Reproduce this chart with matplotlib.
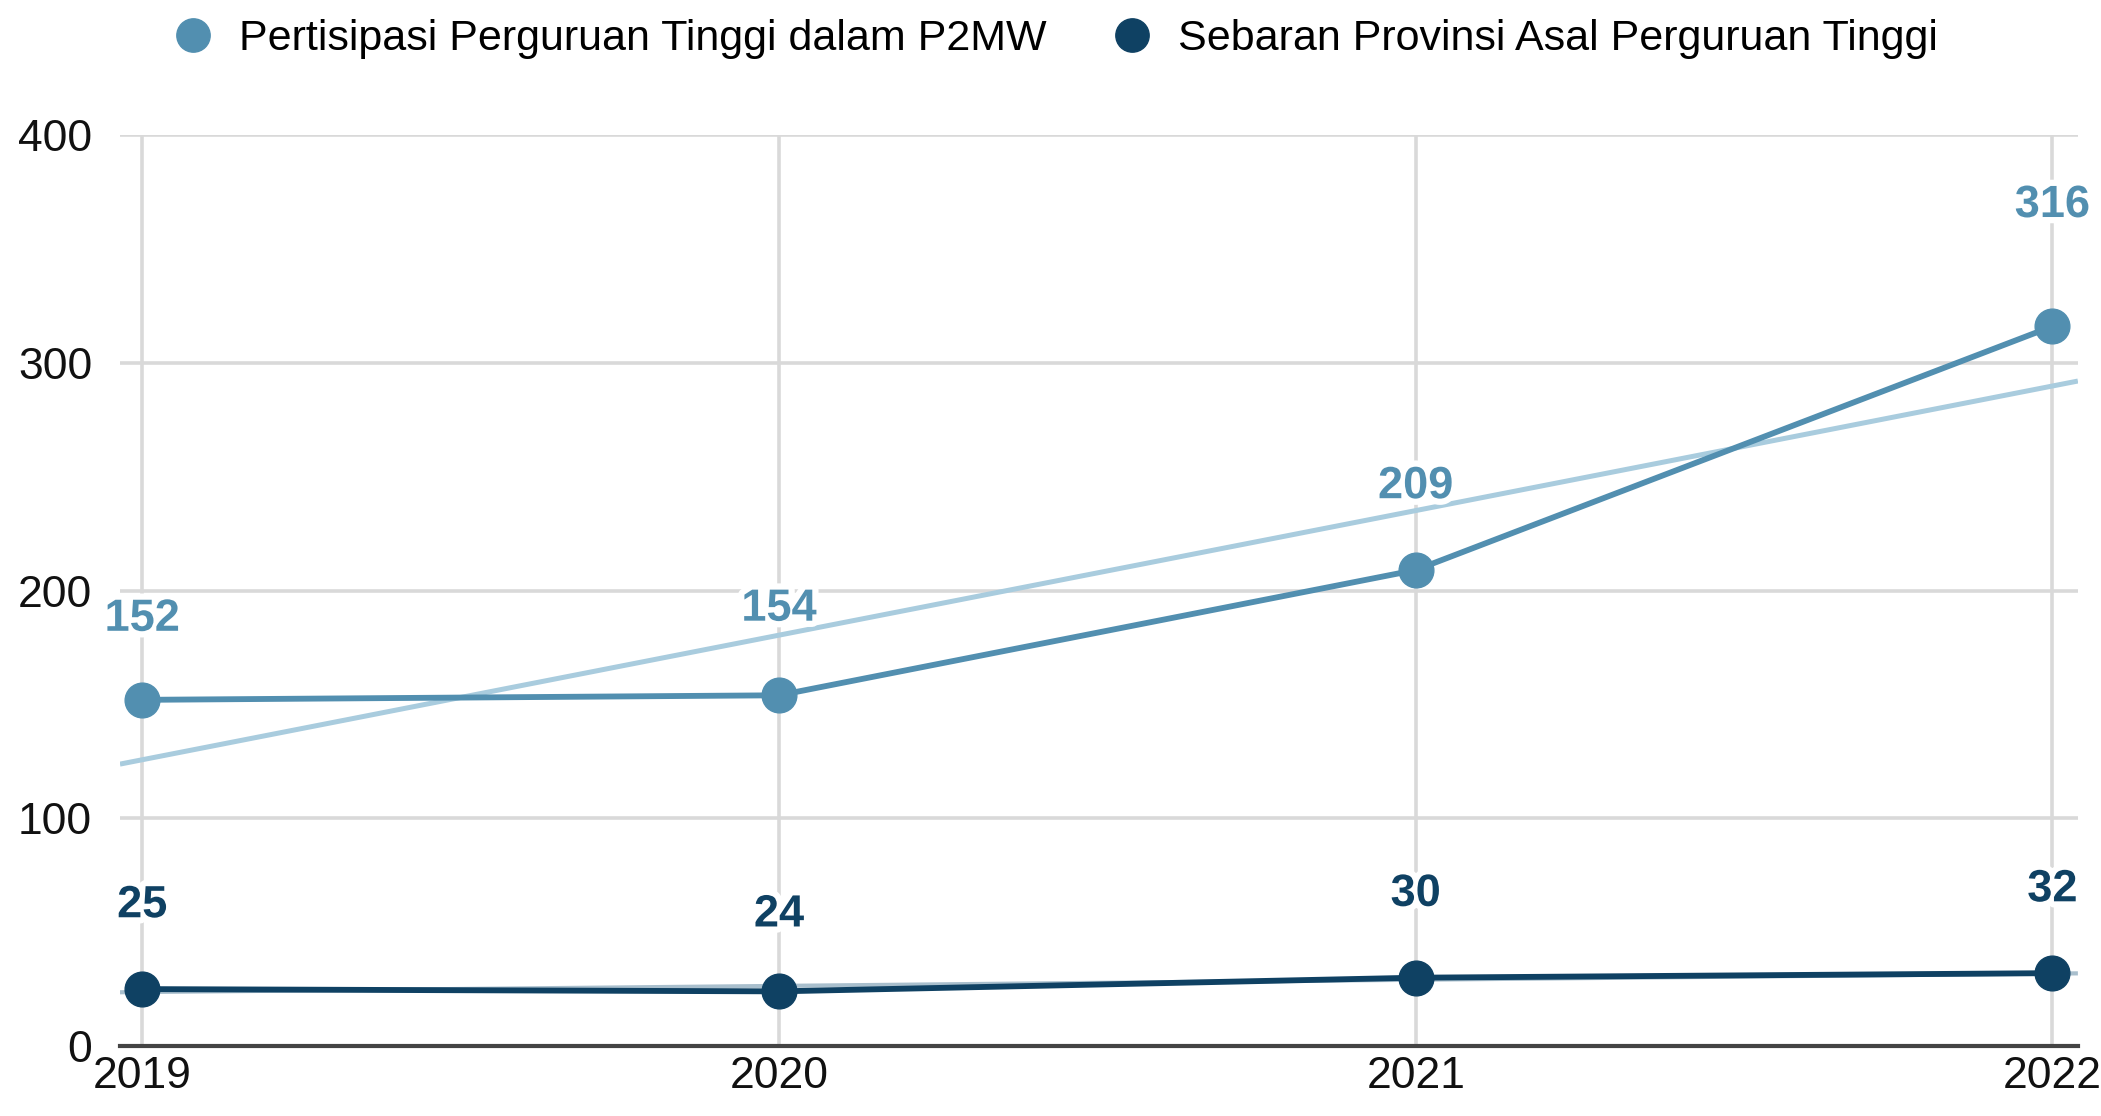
import matplotlib.pyplot as plt
import matplotlib.patheffects as pe
import numpy as np

years = [2019, 2020, 2021, 2022]
participation = [152, 154, 209, 316]
provinces = [25, 24, 30, 32]
series_names = ['Pertisipasi Perguruan Tinggi dalam P2MW',
                'Sebaran Provinsi Asal Perguruan Tinggi']
y_ticks = [0, 100, 200, 300, 400]

light = '#528FB0'
dark = '#0F4163'
light_trend = '#A9CCDE'
dark_trend = '#A9BFCD'

plt.rcParams['font.family'] = ['Liberation Sans', 'DejaVu Sans']

fig = plt.figure(figsize=(21.01, 11.16), dpi=100)
ax = fig.add_axes([0.0571, 0.0627, 0.9319, 0.8163])

xlim = (2018.965, 2022.04)
ax.set_xlim(*xlim)
ax.set_ylim(0, 400)

# trend lines over full x range
xs = np.array(xlim)
for vals, col, lw in [(participation, light_trend, 3.6), (provinces, dark_trend, 3.0)]:
    k, b = np.polyfit(years, vals, 1)
    ax.plot(xs, k * xs + b, color=col, lw=lw, zorder=2, solid_capstyle='butt')

ax.plot(years, participation, color=light, lw=4.2, marker='o', ms=25,
        zorder=3, label=series_names[0])
ax.plot(years, provinces, color=dark, lw=4.2, marker='o', ms=25,
        zorder=3, label=series_names[1])

halo = [pe.withStroke(linewidth=9, foreground='white')]
light_offsets = [58, 62, 60, 87]
dark_offsets = [60, 55, 60, 60]
for x, v, off in zip(years, participation, light_offsets):
    ax.annotate(str(v), (x, v), xytext=(0, off), textcoords='offset points',
                ha='center', va='center', fontsize=32.5, fontweight='bold',
                color=light, path_effects=halo, zorder=4)
for x, v, off in zip(years, provinces, dark_offsets):
    ax.annotate(str(v), (x, v), xytext=(0, off), textcoords='offset points',
                ha='center', va='center', fontsize=32.5, fontweight='bold',
                color=dark, path_effects=halo, zorder=4)

ax.set_xticks(years)
ax.set_xticklabels([str(y) for y in years])
ax.set_yticks(y_ticks)
ax.grid(True, color='#D9D9D9', lw=2.6, zorder=0)
ax.set_axisbelow(True)
for s in ['top', 'right', 'left']:
    ax.spines[s].set_visible(False)
ax.spines['bottom'].set_color('#444444')
ax.spines['bottom'].set_linewidth(3)
ax.spines['bottom'].set_zorder(1)
ax.tick_params(axis='both', length=0, labelsize=32, colors='#111111')
ax.tick_params(axis='y', pad=20)
ax.tick_params(axis='x', pad=7)

handles = [plt.Line2D([], [], ls='', marker='o', ms=24, color=c) for c in (light, dark)]
fig.legend(handles, series_names, loc='upper center', bbox_to_anchor=(0.502, 1.018),
           ncol=2, frameon=False, fontsize=31, handletextpad=0.55,
           columnspacing=1.5, handlelength=1.0)

fig.savefig('out.png', dpi=100, facecolor='white')
